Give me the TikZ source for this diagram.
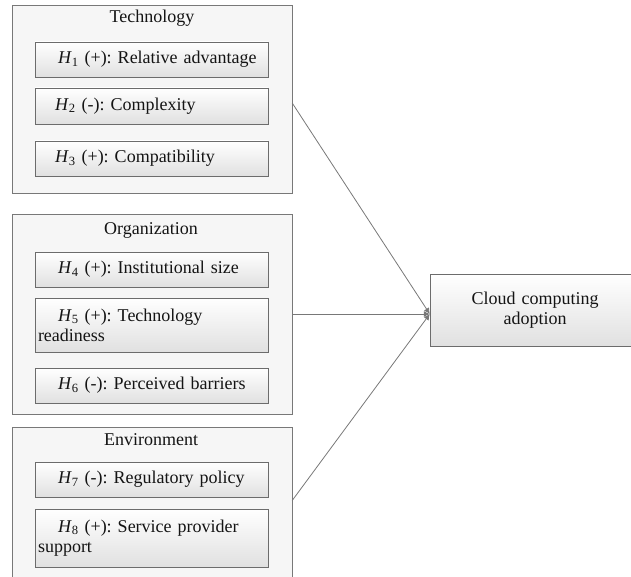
\documentclass[tikz,border=0pt]{standalone}
\usepackage{fontspec}
\setmainfont{Liberation Serif}
\usepackage{tikz}
\usetikzlibrary{arrows.meta, positioning, shapes.geometric, fit, calc}
\definecolor{frame}{RGB}{120, 120, 120}
\definecolor{panel}{RGB}{246, 246, 246}
\definecolor{ink}{RGB}{20, 20, 20}
\newcommand{\hyp}[2]{\textit{H}\textsubscript{#1} (#2):}
\frenchspacing

\begin{document}
\begin{tikzpicture}[x=1pt, y=-1pt,
  group/.style={draw=frame, fill=panel, minimum width=280pt, inner sep=0pt},
  factor/.style={draw=frame!90!black, top color=white, bottom color=black!12,
    minimum width=233pt, text width=227pt, align=left, inner sep=3pt,
    font=\fontsize{18}{20}\selectfont, text=ink},
  heading/.style={font=\fontsize{18}{20}\selectfont, text=ink},
  link/.style={frame, thick, -{Latex[length=6pt, width=6pt]}}]
  \useasboundingbox (0,0) rectangle (631,577);
  \clip (0,0) rectangle (631,577);
  % three groups
  \node[group, minimum height=188pt] (tech) at (152, 99) {};
  \node[group, minimum height=200pt] (org) at (152, 314) {};
  \node[group, minimum height=165pt] (env) at (152, 509.5) {};
  \node[heading] (techT) at (152, 18) {Technology};
  \node[heading] (orgT) at (151, 230) {Organization};
  \node[heading] (envT) at (151, 440) {Environment};
  % hypotheses
  \node[factor, minimum height=35pt] (h1) at (151.5, 59.5) {\hspace*{20pt}\hyp{1}{+} Relative advantage};
  \node[factor, minimum height=36pt] (h2) at (151.5, 106) {\hspace*{17pt}\hyp{2}{-} Complexity};
  \node[factor, minimum height=35pt] (h3) at (151.5, 158.5) {\hspace*{17pt}\hyp{3}{+} Compatibility};
  \node[factor, minimum height=35pt] (h4) at (151.5, 269.5) {\hspace*{20pt}\hyp{4}{+} Institutional size};
  \node[factor, minimum height=54pt] (h5) at (151.5, 325) {\hspace*{20pt}\hyp{5}{+} Technology\\readiness};
  \node[factor, minimum height=35pt] (h6) at (151.5, 385.5) {\hspace*{20pt}\hyp{6}{-} Perceived barriers};
  \node[factor, minimum height=35pt] (h7) at (151.5, 479.5) {\hspace*{20pt}\hyp{7}{-} Regulatory policy};
  \node[factor, minimum height=58pt] (h8) at (151.5, 538) {\hspace*{20pt}\hyp{8}{+} Service provider\\support};
  % outcome
  \node[factor, minimum width=210pt, text width=204pt, minimum height=72pt, align=center] (cloud) at (535, 310) {Cloud computing\\adoption};
  \coordinate (hub) at (cloud.west |- org.east);
  \draw[link] ($(tech.east)+(0,4)$) -- (hub);
  \draw[link] (org.east) -- (hub);
  \draw[link] ($(env.east)+(0,-9)$) -- (hub);
\end{tikzpicture}
\end{document}
